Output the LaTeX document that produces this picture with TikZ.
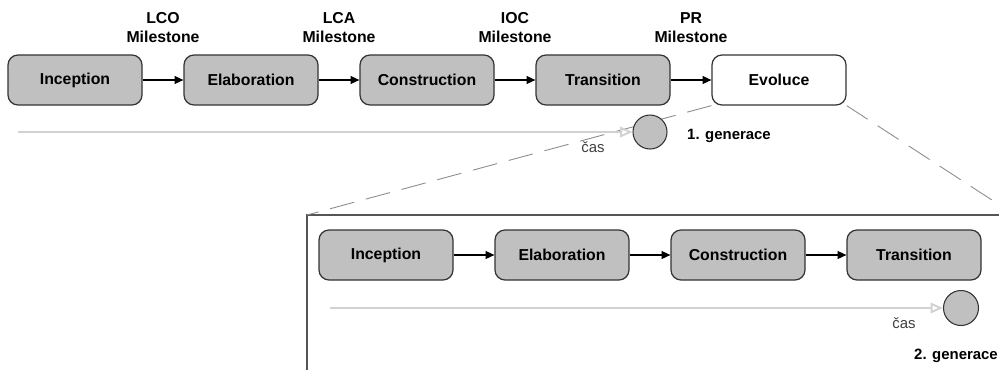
\documentclass[tikz,border=0pt]{standalone}
\usepackage{fontspec}
\setmainfont{Liberation Sans}
\usetikzlibrary{arrows.meta}
\definecolor{phasegray}{HTML}{C0C0C0}
\definecolor{framegray}{HTML}{555555}
\definecolor{timegray}{HTML}{D2D2D2}
\definecolor{dashgray}{HTML}{8C8C8C}
\tikzstyle{phase} = [rectangle, rounded corners=0.2cm, minimum width=2.68cm, minimum height=1cm, text centered, draw=black!80, line width=0.7pt, fill=phasegray, font=\fontsize{9}{11}\selectfont\bfseries]
\tikzstyle{newphase} = [phase, fill=white]
\tikzstyle{arrow} = [line width=0.6pt, -{Triangle[length=5pt,width=4.5pt]}]
\tikzstyle{milestone} = [above=0.62cm, align=center, font=\fontsize{9}{10.8}\selectfont\bfseries]
\tikzstyle{timeline} = [timegray, line width=1.1pt, -{Triangle[open,length=7pt,width=6pt]}]
\tikzstyle{release} = [circle, draw=black!80, line width=0.6pt, fill=phasegray, minimum size=0.68cm, inner sep=0pt]
\tikzstyle{gen} = [anchor=west, font=\fontsize{8.5}{10}\selectfont\bfseries]
\tikzstyle{cas} = [text=black!75, font=\fontsize{8.5}{10}\selectfont]
\tikzstyle{zoomline} = [dashgray, line width=0.5pt, dash pattern=on 0.5cm off 0.24cm]
\tikzstyle{frame} = [framegray, line width=1.1pt]

\begin{document}
\begin{tikzpicture}[node distance=3.52cm]
    \clip (0,0) rectangle (19.98,-7.38);

    % 1. generace
    \node (inc1) [phase] at (1.5,-1.6) {Inception};
    \node (ela1) [phase, right of=inc1] {Elaboration};
    \node (con1) [phase, right of=ela1] {Construction};
    \node (tra1) [phase, right of=con1] {Transition};
    \node (evo) [newphase, right of=tra1] {Evoluce};

    \draw [arrow] (inc1) -- node (lco) [milestone] {LCO\\Milestone} (ela1);
    \draw [arrow] (ela1) -- node (lca) [milestone] {LCA\\Milestone} (con1);
    \draw [arrow] (con1) -- node (ioc) [milestone] {IOC\\Milestone} (tra1);
    \draw [arrow] (tra1) -- node (pr) [milestone] {PR\\Milestone} (evo);

    % zoom frame
    \coordinate (fnw) at (6.14,-4.3);
    \coordinate (fne) at (20.3,-4.3);
    \coordinate (fsw) at (6.14,-7.6);
    \draw [frame] (fsw) -- (fnw) -- (fne);
    \draw [zoomline] (evo.south west) -- (fnw);
    \draw [zoomline] (evo.south east) -- (fne);

    \coordinate (t1) at (0.36,-2.64);
    \node (gen1) [release] at (13.0,-2.64) {};
    \draw [timeline] (t1) -- (gen1);
    \node (cas1) [cas] at (11.86,-2.94) {čas};
    \node (lab1) [gen] at (13.62,-2.72) {1. generace};

    % 2. generace
    \node (inc2) [phase] at (7.72,-5.1) {Inception};
    \node (ela2) [phase, right of=inc2] {Elaboration};
    \node (con2) [phase, right of=ela2] {Construction};
    \node (tra2) [phase, right of=con2] {Transition};

    \draw [arrow] (inc2) -- (ela2);
    \draw [arrow] (ela2) -- (con2);
    \draw [arrow] (con2) -- (tra2);

    \coordinate (t2) at (6.6,-6.16);
    \node (gen2) [release, minimum size=0.7cm] at (19.22,-6.16) {};
    \draw [timeline] (t2) -- (gen2);
    \node (cas2) [cas] at (18.08,-6.46) {čas};
    \node (lab2) [gen] at (18.16,-7.12) {2. generace};
\end{tikzpicture}
\end{document}
